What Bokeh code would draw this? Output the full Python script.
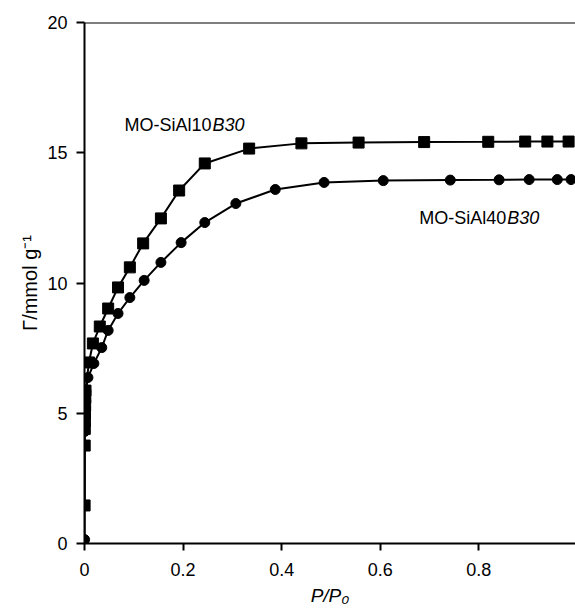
from bokeh.plotting import figure
from bokeh.models import Range1d, FixedTicker, Span, Label
from bokeh.embed import file_html
from bokeh.resources import INLINE

# ---- data ----
p_sq = [0.0002, 0.0004, 0.0006, 0.0008, 0.001, 0.0013, 0.0016, 0.002, 0.009, 0.017,
        0.031, 0.048, 0.068, 0.092, 0.119, 0.155, 0.192, 0.244, 0.334, 0.44,
        0.556, 0.689, 0.819, 0.894, 0.939, 0.982]
g_sq = [1.46, 3.76, 4.4, 4.7, 5.0, 5.3, 5.6, 5.87, 6.95, 7.68,
        8.33, 9.02, 9.83, 10.6, 11.52, 12.48, 13.55, 14.59, 15.16, 15.36,
        15.39, 15.41, 15.42, 15.43, 15.43, 15.43]

p_ci = [0.0002, 0.0005, 0.0008, 0.0011, 0.0015, 0.002, 0.003, 0.007, 0.019, 0.035,
        0.048, 0.068, 0.092, 0.121, 0.155, 0.196, 0.244, 0.307, 0.387, 0.486,
        0.606, 0.742, 0.841, 0.902, 0.959, 0.987]
g_ci = [0.15, 4.3, 4.6, 4.9, 5.2, 5.5, 5.85, 6.37, 6.91, 7.52,
        8.18, 8.83, 9.44, 10.1, 10.79, 11.55, 12.32, 13.05, 13.59, 13.86,
        13.93, 13.95, 13.96, 13.97, 13.97, 13.97]

x_ticks = [0, 0.2, 0.4, 0.6, 0.8]
x_tick_labels = ["0", "0.2", "0.4", "0.6", "0.8"]
y_ticks = [0, 5, 10, 15, 20]

FONT = "Liberation Sans"

p = figure(width=575, height=609, output_backend="svg", toolbar_location=None,
           x_range=Range1d(0, 0.996), y_range=Range1d(0, 20),
           min_border_left=84, min_border_right=0, min_border_top=22, min_border_bottom=66)
p.outline_line_color = None
p.grid.visible = False
p.background_fill_color = "white"
p.border_fill_color = "white"

for ax in (p.xaxis[0], p.yaxis[0]):
    ax.axis_line_width = 2
    ax.axis_line_color = "black"
    ax.major_tick_line_width = 2
    ax.major_tick_line_color = "black"
    ax.major_tick_in = 0
    ax.minor_tick_line_color = None
    ax.major_label_text_font = FONT
    ax.major_label_text_font_size = "18px"
    ax.major_label_text_color = "black"
    ax.axis_label_text_font = FONT
    ax.axis_label_text_color = "black"

p.xaxis.ticker = FixedTicker(ticks=x_ticks)
p.xaxis.major_label_overrides = {t: l for t, l in zip(x_ticks, x_tick_labels)}
p.xaxis.major_tick_out = 7
p.xaxis.major_label_standoff = 12
p.xaxis.axis_label = "P/P₀"
p.xaxis.axis_label_text_font_size = "19px"
p.xaxis.axis_label_text_font_style = "italic"
p.xaxis.axis_label_standoff = 6

p.yaxis.ticker = FixedTicker(ticks=y_ticks)
p.yaxis.major_tick_out = 8
p.yaxis.major_label_standoff = 9
p.yaxis.axis_label = "Γ/mmol g⁻¹"
p.yaxis.axis_label_text_font_size = "20px"
p.yaxis.axis_label_text_font_style = "normal"
p.yaxis.axis_label_standoff = 3

p.add_layout(Span(location=20, dimension="width", line_color="black", line_width=2))

# series
p.line(p_sq, g_sq, line_color="black", line_width=2)
p.scatter(p_sq, g_sq, marker="square", size=11, fill_color="black", line_color="black")
p.line(p_ci, g_ci, line_color="black", line_width=2)
p.scatter(p_ci, g_ci, marker="circle", size=10, fill_color="black", line_color="black")

# series labels
def lab(x, y, text, style="normal", xo=0):
    p.add_layout(Label(x=x, y=y, text=text, text_font=FONT, text_font_size="18px",
                       text_font_style=style, text_color="black",
                       x_offset=xo, text_align="left", text_baseline="alphabetic"))

lab(0.081, 16.05, "MO-SiAl10")
lab(0.081, 16.05, "B30", style="italic", xo=88)
lab(0.679, 12.48, "MO-SiAl40")
lab(0.679, 12.48, "B30", style="italic", xo=88)

open("out.html", "w").write(file_html(p, INLINE))
